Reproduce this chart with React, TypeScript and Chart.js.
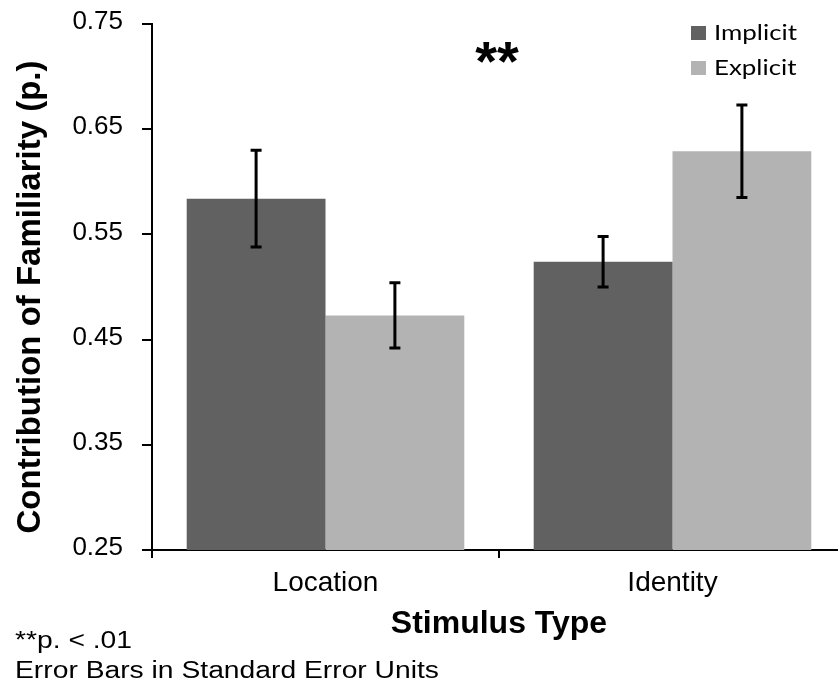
import React, { useEffect, useRef } from "react";
import { Chart, registerables } from "chart.js";

Chart.register(...registerables);

const categories = ["Location", "Identity"];
const seriesNames = ["Implicit", "Explicit"];
const implicitValues = [0.584, 0.524];
const explicitValues = [0.473, 0.629];
const implicitErrors = [0.046, 0.024];
const explicitErrors = [0.031, 0.044];
const yMin = 0.25;
const yMax = 0.75;
const yStep = 0.1;
const implicitColor = "#616161";
const explicitColor = "#b3b3b3";
const yTitle = "Contribution of Familiarity (p.)";
const xTitle = "Stimulus Type";
const significance = "**";
const footnotes = ["**p. < .01", "Error Bars in Standard Error Units"];

const errorsBySeries = [implicitErrors, explicitErrors];
const colorsBySeries = [implicitColor, explicitColor];

const errorBarPlugin = {
  id: "errorBars",
  afterDatasetsDraw(chart: any) {
    const ctx = chart.ctx;
    const yScale = chart.scales.y;
    ctx.save();
    ctx.strokeStyle = "#000";
    ctx.lineWidth = 3;
    chart.data.datasets.forEach((ds: any, i: number) => {
      const meta = chart.getDatasetMeta(i);
      meta.data.forEach((bar: any, j: number) => {
        const v = ds.data[j];
        const e = errorsBySeries[i][j];
        const x = bar.x;
        const yT = yScale.getPixelForValue(v + e);
        const yB = yScale.getPixelForValue(v - e);
        const cap = 5.5;
        ctx.beginPath();
        ctx.moveTo(x, yT);
        ctx.lineTo(x, yB);
        ctx.moveTo(x - cap, yT);
        ctx.lineTo(x + cap, yT);
        ctx.moveTo(x - cap, yB);
        ctx.lineTo(x + cap, yB);
        ctx.stroke();
      });
    });
    ctx.restore();
  },
};

const annotationPlugin = {
  id: "annotations",
  afterDraw(chart: any) {
    const ctx = chart.ctx;
    const area = chart.chartArea;
    ctx.save();
    ctx.fillStyle = "#000";

    // y axis title
    ctx.save();
    ctx.font = "bold 33px 'Liberation Sans', Arial, sans-serif";
    ctx.textAlign = "center";
    ctx.textBaseline = "alphabetic";
    ctx.translate(40, (area.top + area.bottom) / 2 + 10);
    ctx.rotate(-Math.PI / 2);
    ctx.fillText(yTitle, 0, 0);
    ctx.restore();

    // significance stars
    ctx.font = "bold 56px 'Liberation Sans', Arial, sans-serif";
    ctx.textAlign = "center";
    ctx.textBaseline = "alphabetic";
    const m = ctx.measureText(significance);
    const cx = (area.left + area.right) / 2 - 2;
    ctx.fillText(significance, cx, area.top + 18 + m.actualBoundingBoxAscent);

    // legend
    ctx.font = "21px Lato, 'Open Sans', sans-serif";
    ctx.textAlign = "left";
    const lsx = 83 / ctx.measureText(seriesNames[0]).width;
    seriesNames.forEach((name, i) => {
      const base = 40 + i * 35;
      ctx.fillStyle = colorsBySeries[i];
      ctx.fillRect(691, base - 14, 15, 14);
      ctx.fillStyle = "#000";
      ctx.save();
      ctx.translate(714, base);
      ctx.scale(lsx, 1);
      ctx.fillText(name, 0, 0);
      ctx.restore();
    });

    // footnotes
    ctx.font = "23px 'Liberation Sans', Arial, sans-serif";
    const fsx = 424 / ctx.measureText(footnotes[1]).width;
    footnotes.forEach((t, i) => {
      ctx.save();
      ctx.translate(15, 648 + i * 30);
      ctx.scale(fsx, 1);
      ctx.fillText(t, 0, 0);
      ctx.restore();
    });
    ctx.restore();
  },
};

export default function App() {
  const ref = useRef<HTMLCanvasElement>(null);
  useEffect(() => {
    document.body.style.margin = "0";
    const canvas = ref.current!;
    const chart = new Chart(canvas, {
      type: "bar",
      data: {
        labels: categories,
        datasets: [
          { label: seriesNames[0], data: implicitValues, backgroundColor: implicitColor, borderWidth: 0 },
          { label: seriesNames[1], data: explicitValues, backgroundColor: explicitColor, borderWidth: 0 },
        ],
      },
      options: {
        responsive: false,
        animation: false,
        devicePixelRatio: 1,
        layout: { padding: { top: 24, left: 0, right: 0, bottom: 0 } },
        datasets: { bar: { categoryPercentage: 0.8, barPercentage: 1.0 } },
        plugins: { legend: { display: false }, tooltip: { enabled: false } },
        scales: {
          x: {
            offset: true,
            afterFit: (s: any) => { s.height = 139; s.paddingLeft = 0; s.paddingRight = 0; },
            grid: { display: true, offset: true, drawOnChartArea: false, drawTicks: true, tickLength: 8, color: "#000", lineWidth: 2 },
            border: { display: true, color: "#000", width: 2 },
            ticks: { color: "#000", padding: 8, font: { family: "'Liberation Sans', Arial, sans-serif", size: 28 } },
            title: {
              display: true,
              text: xTitle,
              color: "#000",
              font: { family: "'Liberation Sans', Arial, sans-serif", size: 32, weight: "bold", lineHeight: 1.2 },
              padding: { top: 0, bottom: 46 },
            },
          },
          y: {
            min: yMin,
            max: yMax,
            afterFit: (s: any) => { s.width = 152; s.paddingTop = 0; s.paddingBottom = 0; },
            grid: { display: true, drawOnChartArea: false, drawTicks: true, tickLength: 10, color: "#000", lineWidth: 2 },
            border: { display: true, color: "#000", width: 2 },
            ticks: {
              stepSize: yStep,
              color: "#000",
              padding: 19,
              labelOffset: -2,
              font: { family: "'Liberation Sans', Arial, sans-serif", size: 26 },
              callback: (v: any) => Number(v).toFixed(2),
            },
            title: { display: false },
          },
        },
      },
      plugins: [errorBarPlugin, annotationPlugin],
    });
    return () => chart.destroy();
  }, []);
  return (
    <div style={{ width: 838, height: 689, overflow: "hidden", position: "relative", background: "#fff" }}>
      <canvas ref={ref} width={846} height={689} style={{ width: 846, height: 689, display: "block" }} />
    </div>
  );
}
